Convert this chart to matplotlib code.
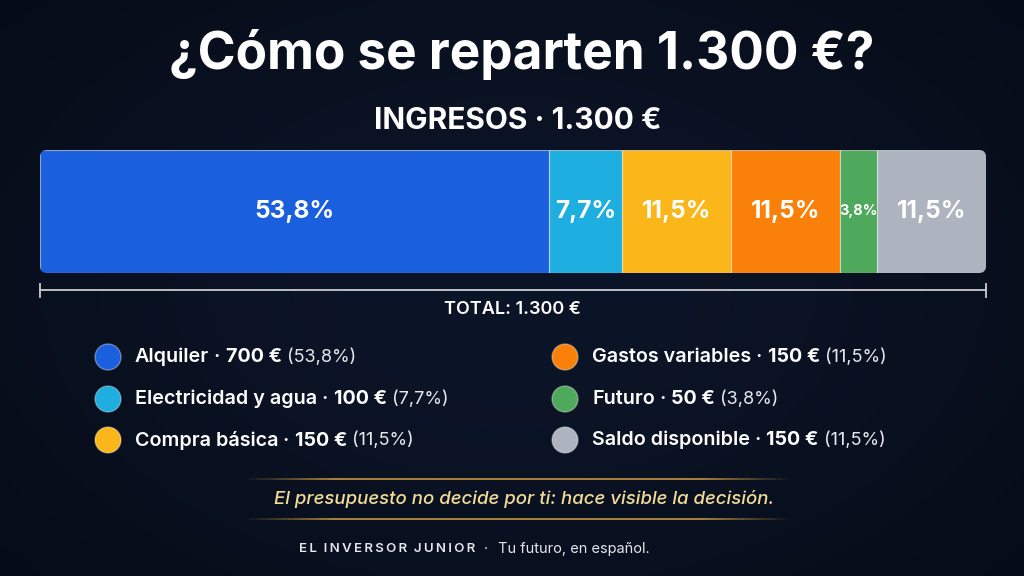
import numpy as np
import matplotlib
matplotlib.use('Agg')
import matplotlib.pyplot as plt
from matplotlib.patches import FancyBboxPatch, Circle
from matplotlib.collections import LineCollection

plt.rcParams['font.family'] = ['Inter', 'DejaVu Sans']

# data
categories = ['Alquiler', 'Electricidad y agua', 'Compra básica',
              'Gastos variables', 'Futuro', 'Saldo disponible']
amounts = [700, 100, 150, 150, 50, 150]
pct_labels = ['53,8%', '7,7%', '11,5%', '11,5%', '3,8%', '11,5%']
amount_labels = ['700 €', '100 €', '150 €', '150 €', '50 €', '150 €']
colors = ['#1a5fde', '#1eaee0', '#fbb61a', '#f98109', '#4ea95c', '#adb3bf']
total = sum(amounts)

W, H = 1024, 576
fig = plt.figure(figsize=(W / 100, H / 100), dpi=100)
fig.patch.set_facecolor('#050b18')

ax = fig.add_axes([0, 0, 1, 1])
ax.set_xlim(0, W)
ax.set_ylim(H, 0)
ax.axis('off')

# subtle background glow
yy, xx = np.mgrid[0:H, 0:W]
glow = np.exp(-(((xx - W / 2) / 600) ** 2 + ((yy - H / 2) / 380) ** 2))
c0 = np.array([4, 8, 18]) / 255
c1 = np.array([12, 21, 40]) / 255
bg = c0 + (c1 - c0) * glow[..., None]
ax.imshow(bg, extent=[0, W, H, 0], zorder=0, aspect='auto')

ax.text(522, 54, '¿Cómo se reparten 1.300 €?', ha='center', va='center',
        fontsize=37, fontweight='bold', color='white')
ax.text(518, 121, 'INGRESOS · 1.300 €', ha='center', va='center',
        fontsize=21.5, fontweight='bold', color='white')

# stacked bar
bx0, bx1, by0, by1 = 40, 986, 150, 273
bax = fig.add_axes([bx0 / W, (H - by1) / H, (bx1 - bx0) / W, (by1 - by0) / H])
bax.set_xlim(0, total)
bax.set_ylim(0, 1)
bax.axis('off')
bax.patch.set_alpha(0)

clip = FancyBboxPatch((bx0, by0), bx1 - bx0, by1 - by0,
                      boxstyle='round,pad=0,rounding_size=7',
                      transform=ax.transData, facecolor='none', edgecolor='none')
ax.add_patch(clip)

lefts = np.concatenate([[0], np.cumsum(amounts)[:-1]])
for i in range(len(amounts)):
    b = bax.barh(0.5, amounts[i], left=lefts[i], height=1.0, color=colors[i],
                 edgecolor=(1, 1, 1, 0.55), linewidth=0.8)
    for p in b:
        p.set_clip_path(clip)
    fs = 10.5 if amounts[i] < 80 else 17.5
    bax.text(lefts[i] + amounts[i] / 2, 0.5, pct_labels[i], ha='center',
             va='center', color='white', fontsize=fs, fontweight='bold')

# total bracket
ax.plot([bx0, bx1], [290, 290], color='#c9ccd2', lw=1.3)
ax.plot([bx0, bx0], [284, 297], color='#c9ccd2', lw=1.3)
ax.plot([bx1, bx1], [284, 297], color='#c9ccd2', lw=1.3)
ax.text(W / 2, 310, 'TOTAL: 1.300 €', ha='center', va='center',
        fontsize=13, fontweight='semibold', color='white')

# legend
rows_y = [357, 399, 440]
col_x = [108, 565]
for i, name in enumerate(categories):
    cx = col_x[i // 3]
    cy = rows_y[i % 3]
    ax.add_patch(Circle((cx, cy), 13, facecolor=colors[i],
                        edgecolor=(1, 1, 1, 0.35), lw=1, zorder=3))
    t = ax.text(cx + 27, cy, name, ha='left', va='center', fontsize=14.2,
                fontweight='semibold', color='white')
    t = ax.annotate(' · ', xy=(1, 0), xycoords=t, va='bottom', ha='left',
                    fontsize=14.2, fontweight='semibold', color='white')
    t = ax.annotate(amount_labels[i], xy=(1, 0), xycoords=t, va='bottom',
                    ha='left', fontsize=14.2, fontweight='bold', color='white')
    ax.annotate(' (' + pct_labels[i] + ')', xy=(1, 0), xycoords=t,
                va='bottom', ha='left', fontsize=13, color='#e6e8ec')

# quote with gold lines
xs = np.linspace(242, 790, 120)
prof = np.clip(np.minimum(xs - 242, 790 - xs) / 90, 0, 1)
for ly in (479, 519):
    segs = [[(xs[k], ly), (xs[k + 1], ly)] for k in range(len(xs) - 1)]
    cols = [(0.78, 0.6, 0.25, 0.9 * prof[k]) for k in range(len(xs) - 1)]
    ax.add_collection(LineCollection(segs, colors=cols, linewidths=1.3))
ax.text(524, 499, 'El presupuesto no decide por ti: hace visible la decisión.',
        ha='center', va='center', fontsize=13.4, style='italic',
        fontweight='medium', color='#f3dc97')

# footer
brand = '\u2009'.join('EL INVERSOR JUNIOR').replace('\u2009 \u2009', '  ')
ax.text(475, 549, brand, ha='right', va='center',
        fontsize=9.6, fontweight='semibold', color='#e4e6ea')
ax.text(486, 549, '·', ha='center', va='center',
        fontsize=10.5, color='#e4e6ea')
ax.text(498, 549, 'Tu futuro, en español.', ha='left', va='center',
        fontsize=10.5, color='#e4e6ea')

fig.savefig('out.png', dpi=100, facecolor=fig.get_facecolor())
